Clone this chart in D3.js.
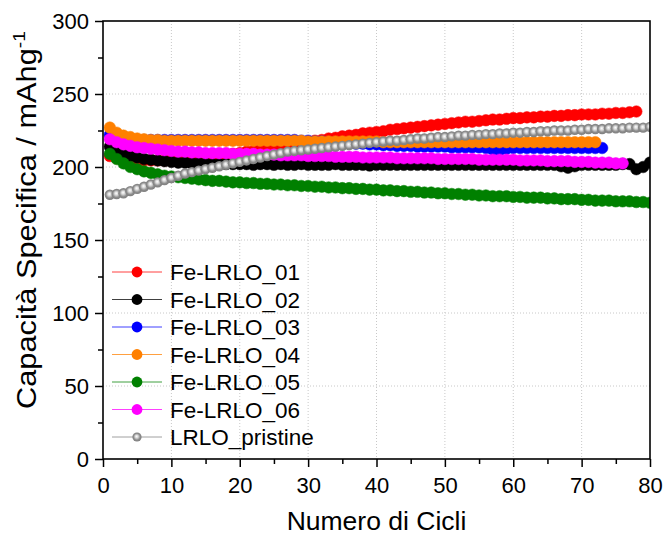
<!DOCTYPE html>
<html>
<head>
<meta charset="utf-8">
<script src="https://cdn.jsdelivr.net/npm/d3@7"></script>
<style>
  html, body { margin: 0; padding: 0; background: #fff; }
  svg { display: block; font-family: "Liberation Sans", Arial, sans-serif; }
</style>
</head>
<body>
<svg id="chart" width="663" height="539"></svg>
<script>
// Specific capacity (mAh/g) per cycle, cycles numbered from 1
const seriesNames = ["Fe-LRLO_01", "Fe-LRLO_02", "Fe-LRLO_03", "Fe-LRLO_04", "Fe-LRLO_05", "Fe-LRLO_06", "LRLO_pristine"];
const seriesColors = ["#ff0000", "#000000", "#0000ff", "#ff8000", "#008000", "#ff00ff", "#808080"];

const fe01 = [207.5, 206, 205.5, 205, 204.5, 204.5, 204.5, 204.5, 204.5, 205,
  205, 205.5, 206, 206.5, 207, 207.5, 208, 208.5, 209, 209.5,
  210.5, 211, 212, 212.5, 213.5, 214, 215, 215.5, 216.5, 217,
  218, 218.5, 219.5, 220, 221, 221.5, 222, 223, 223.5, 224,
  224.5, 225.5, 226, 226.5, 227, 227.5, 228, 228.5, 229, 229.5,
  230, 230.5, 231, 231, 231.5, 232, 232.5, 232.5, 233, 233.5,
  233.5, 234, 234, 234.5, 234.5, 235, 235, 235.5, 235.5, 236,
  236, 236, 236.5, 236.5, 237, 237, 237.5, 238];

const fe02 = [214, 211, 209, 207.5, 206.5, 205.5, 205, 204.5, 204, 203.5,
  203, 203, 202.5, 202.5, 202.5, 202, 202, 202, 202, 202,
  202, 201.5, 202, 202, 201.5, 202, 201.5, 201.5, 202, 201.5,
  201.5, 201.5, 201.5, 202, 201.5, 201.5, 201.5, 201.5, 201, 201.5,
  201.5, 201.5, 201.5, 201.5, 201.5, 201.5, 201.5, 201.5, 201.5, 201.5,
  201.5, 201.5, 201.5, 201.5, 201.5, 201.5, 201.5, 201.5, 201.5, 201.5,
  201.5, 201.5, 201.5, 201.5, 201.5, 201.5, 200.5, 199.5, 200.5, 201.5,
  201.5, 201.5, 201.5, 201.5, 201.5, 202, 202, 198.5, 200, 203];

const fe03 = [222, 220.5, 219.5, 218.5, 218.5, 218.5, 218.5, 218.5, 218.5, 218.5,
  218.5, 218.5, 218.5, 218.5, 218.5, 218.5, 218.5, 218.5, 218.5, 218.5,
  218.5, 218.5, 218.5, 218.5, 218.5, 218.5, 218.5, 218.5, 218, 218,
  217.5, 217.5, 217, 217, 216.5, 216.5, 216, 216, 215.5, 215.5,
  215, 215, 214.5, 214.5, 214.5, 214, 214, 214, 214, 214,
  213.5, 213.5, 213.5, 213.5, 213.5, 213, 212, 211.5, 212.5, 213,
  213, 213, 213, 213, 213, 213, 213, 213, 213, 213,
  213, 213, 213];

const fe04 = [227, 223.5, 221.5, 220.5, 219.5, 219, 218.5, 218.5, 218, 218,
  218, 218, 218, 218, 218, 218, 218, 218, 218, 218,
  218, 218, 218, 218, 218, 218, 218, 218, 218, 217.5,
  217.5, 217.5, 217.5, 217.5, 217.5, 217.5, 217.5, 217.5, 217.5, 217.5,
  217, 217, 217, 217, 217, 217, 217, 217, 217, 217,
  217, 217, 217, 217, 217, 217, 217, 217, 217, 217,
  217, 217, 217, 217, 217, 217, 217, 217, 217, 217,
  217, 217];

const fe05 = [209, 205.5, 202.5, 200, 198.5, 197, 196, 195, 194, 193.5,
  193, 192.5, 192, 191.5, 191, 190.5, 190.5, 190, 189.5, 189.5,
  189, 189, 188.5, 188.5, 188, 188, 187.5, 187.5, 187, 187,
  186.5, 186.5, 186, 186, 185.5, 185.5, 185, 185, 184.5, 184.5,
  184, 184, 183.5, 183.5, 183, 183, 182.5, 182.5, 182, 182,
  181.5, 181.5, 181, 181, 180.5, 180.5, 180, 180, 180, 179.5,
  179.5, 179, 179, 179, 178.5, 178.5, 178, 178, 178, 177.5,
  177.5, 177, 177, 177, 176.5, 176.5, 176.5, 176, 176, 175.5];

const fe06 = [219, 217, 215.5, 214.5, 213.5, 213, 212.5, 212, 211.5, 211,
  210.5, 210.5, 210, 210, 209.5, 209.5, 209.5, 209.5, 209, 209,
  209, 209, 208.5, 208.5, 208.5, 208, 208, 208, 208, 207.5,
  207.5, 207.5, 207.5, 207, 207, 207, 207, 206.5, 206.5, 206.5,
  206.5, 206.5, 206, 206, 206, 206, 206, 206, 205.5, 205.5,
  205.5, 205.5, 205.5, 205.5, 205, 205, 205, 205, 205, 205,
  204.5, 204.5, 204.5, 204.5, 204, 204, 204, 204, 203.5, 203.5,
  203.5, 203, 203, 203, 202.5, 202.5];

const pristine = [181, 181.5, 182, 183.5, 185, 186.5, 188, 189.5, 191, 192.5,
  194, 195.5, 196.5, 197.5, 198.5, 199.5, 200.5, 201.5, 202.5, 203.5,
  204.5, 205.5, 206.5, 207.5, 208.5, 209.5, 210.5, 211, 211.5, 212,
  212.5, 213, 213.5, 214, 214.5, 215, 215.5, 216, 216.5, 217,
  217.5, 218, 218, 218.5, 219, 219.5, 219.5, 220, 220.5, 220.5,
  221, 221.5, 221.5, 222, 222, 222.5, 222.5, 223, 223, 223.5,
  223.5, 224, 224, 224.5, 224.5, 225, 225, 225, 225.5, 225.5,
  226, 226, 226, 226.5, 226.5, 226.5, 227, 227, 227, 227.5];

const seriesValues = [fe01, fe02, fe03, fe04, fe05, fe06, pristine];

const xTicks = [0, 10, 20, 30, 40, 50, 60, 70, 80];
const yTicks = [0, 50, 100, 150, 200, 250, 300];
const xMinorTicks = [5, 15, 25, 35, 45, 55, 65, 75];
const yMinorTicks = [25, 75, 125, 175, 225, 275];

const xTitle = "Numero di Cicli";
const yTitle = "Capacità Specifica / mAhg";
const yTitleSup = "-1";

// ---- layout ----
const svg = d3.select("#chart");
const plot = { left: 103, right: 650, top: 21, bottom: 459 };

const x = d3.scaleLinear().domain([0, 80]).range([plot.left, plot.right]);
const y = d3.scaleLinear().domain([0, 300]).range([plot.bottom, plot.top]);

// grey sphere look for the pristine markers
const defs = svg.append("defs");
const grad = defs.append("radialGradient").attr("id", "sphere")
  .attr("cx", "50%").attr("cy", "50%").attr("r", "55%")
  .attr("fx", "45%").attr("fy", "42%");
grad.append("stop").attr("offset", "0%").attr("stop-color", "#ffffff");
grad.append("stop").attr("offset", "30%").attr("stop-color", "#d8d8d8");
grad.append("stop").attr("offset", "65%").attr("stop-color", "#8c8c8c");
grad.append("stop").attr("offset", "100%").attr("stop-color", "#7a7a7a");

defs.append("clipPath").attr("id", "plotClip").append("rect")
  .attr("x", plot.left).attr("y", plot.top)
  .attr("width", plot.right - plot.left).attr("height", plot.bottom - plot.top);

// ---- grid ----
const grid = svg.append("g").attr("class", "grid");
grid.selectAll("line.gx").data(xTicks.filter(d => d > 0 && d < 80)).enter().append("line")
  .attr("x1", d => x(d)).attr("x2", d => x(d))
  .attr("y1", plot.top).attr("y2", plot.bottom)
  .attr("stroke", "#c8c8c8").attr("stroke-width", 1).attr("stroke-dasharray", "1,2");
grid.selectAll("line.gy").data(yTicks.filter(d => d > 0 && d < 300)).enter().append("line")
  .attr("y1", d => y(d)).attr("y2", d => y(d))
  .attr("x1", plot.left).attr("x2", plot.right)
  .attr("stroke", "#c8c8c8").attr("stroke-width", 1).attr("stroke-dasharray", "1,2");

// ---- data ----
const line = d3.line().x(d => x(d.c)).y(d => y(d.v));
const dataLayer = svg.append("g").attr("clip-path", "url(#plotClip)");

seriesValues.forEach((vals, i) => {
  const pts = vals.map((v, k) => ({ c: k + 1, v }));
  const g = dataLayer.append("g");
  const isGrey = i === 6;
  g.append("path").datum(pts).attr("d", line)
    .attr("fill", "none").attr("stroke", seriesColors[i]).attr("stroke-width", 1);
  g.selectAll("circle").data(pts).enter().append("circle")
    .attr("cx", d => x(d.c)).attr("cy", d => y(d.v))
    .attr("r", isGrey ? 5.2 : 5.8)
    .attr("fill", isGrey ? "url(#sphere)" : seriesColors[i])
    .attr("stroke", isGrey ? "none" : seriesColors[i]).attr("stroke-width", 0.5);
});

// ---- axes ----
const xAxis = d3.axisBottom(x).tickValues(xTicks).tickSize(8).tickPadding(10).tickFormat(d3.format("d"));
const yAxis = d3.axisLeft(y).tickValues(yTicks).tickSize(8).tickPadding(6).tickFormat(d3.format("d"));

const gx = svg.append("g").attr("transform", `translate(0,${plot.bottom})`).call(xAxis);
const gy = svg.append("g").attr("transform", `translate(${plot.left},0)`).call(yAxis);
[gx, gy].forEach(g => {
  g.select(".domain").remove();
  g.selectAll(".tick line").attr("stroke", "#000").attr("stroke-width", 1.5);
  g.selectAll(".tick text").attr("fill", "#000").style("font-size", "22px")
    .style("font-family", "'Liberation Sans', Arial, sans-serif");
});

const xMinor = d3.axisBottom(x).tickValues(xMinorTicks).tickSize(5).tickFormat("");
const yMinor = d3.axisLeft(y).tickValues(yMinorTicks).tickSize(5).tickFormat("");
svg.append("g").attr("transform", `translate(0,${plot.bottom})`).call(xMinor)
  .call(g => g.select(".domain").remove())
  .selectAll(".tick line").attr("stroke", "#000").attr("stroke-width", 1.5);
svg.append("g").attr("transform", `translate(${plot.left},0)`).call(yMinor)
  .call(g => g.select(".domain").remove())
  .selectAll(".tick line").attr("stroke", "#000").attr("stroke-width", 1.5);

// frame
svg.append("rect")
  .attr("x", plot.left).attr("y", plot.top)
  .attr("width", plot.right - plot.left).attr("height", plot.bottom - plot.top)
  .attr("fill", "none").attr("stroke", "#000").attr("stroke-width", 1.6);

// ---- titles ----
svg.append("text")
  .attr("x", (plot.left + plot.right) / 2).attr("y", 530)
  .attr("text-anchor", "middle").style("font-size", "26.5px").attr("fill", "#000")
  .text(xTitle);

const yt = svg.append("text")
  .attr("transform", "translate(36,220) rotate(-90) scale(1.14,1)")
  .attr("text-anchor", "middle").style("font-size", "27px").attr("fill", "#000");
yt.append("tspan").text(yTitle);
yt.append("tspan").attr("dy", -11).style("font-size", "17px").text(yTitleSup);

// ---- legend ----
const legend = svg.append("g");
const legendTop = 272, legendStep = 27.5;
seriesNames.forEach((name, i) => {
  const ly = legendTop + i * legendStep;
  const isGrey = i === 6;
  const lg = legend.append("g");
  lg.append("line").attr("x1", 112).attr("x2", 162).attr("y1", ly).attr("y2", ly)
    .attr("stroke", seriesColors[i]).attr("stroke-width", 1).attr("stroke-opacity", 0.75);
  lg.append("circle").attr("cx", 137).attr("cy", ly).attr("r", isGrey ? 4.6 : 5.4)
    .attr("fill", isGrey ? "url(#sphere)" : seriesColors[i]);
  lg.append("text").attr("x", 170).attr("y", ly + 8)
    .style("font-size", "22.5px").attr("fill", "#000").text(name);
});
</script>
</body>
</html>
